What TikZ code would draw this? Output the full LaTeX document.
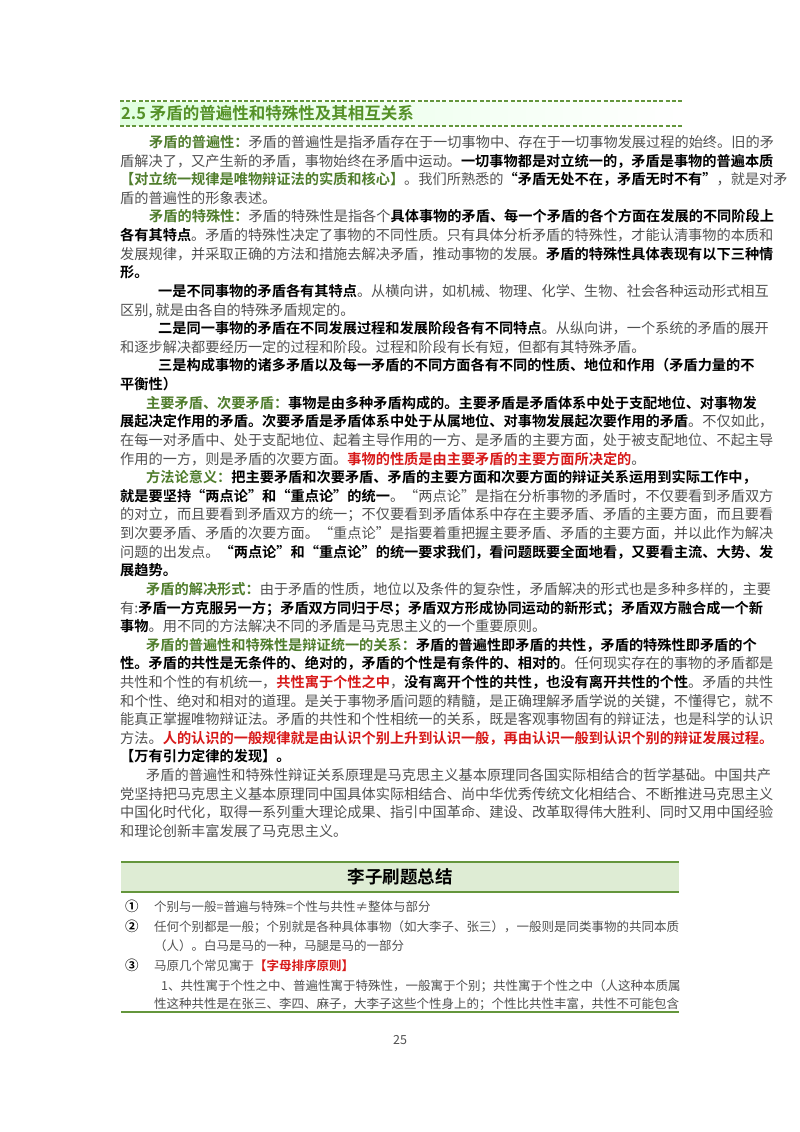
\documentclass[tikz,border=0pt]{standalone}
\usepackage{fontspec}
\setmainfont{Noto Sans CJK SC}[BoldFont={Noto Sans CJK SC Bold}]
\XeTeXlinebreaklocale "zh"
\XeTeXlinebreakskip=0pt plus 4pt
\definecolor{txt}{RGB}{80,80,80}
\definecolor{lab}{RGB}{80,125,45}
\definecolor{ttl}{RGB}{85,145,40}
\definecolor{rd}{RGB}{215,25,25}
\definecolor{gline}{RGB}{100,150,60}
\definecolor{hdr}{RGB}{222,236,212}
\newcommand{\gl}[1]{{\color{lab}\bfseries #1}}
\newcommand{\bd}[1]{{\color{black}\bfseries #1}}
\newcommand{\rdd}[1]{{\color{rd}\bfseries #1}}
\newcommand{\J}[3]{\node[tl] at (120,{147.5+18.62*#1}) {\makebox[560pt][s]{\hspace*{#2pt}#3}};}
\newcommand{\N}[3]{\node[tl] at (120,{147.5+18.62*#1}) {\hspace*{#2pt}#3};}
\begin{document}
\begin{tikzpicture}[x=1pt,y=-1pt,
  tl/.style={anchor=base west,inner sep=0pt,font=\fontsize{14.2}{19}\selectfont,text=txt},
  tr/.style={anchor=base west,inner sep=0pt,font=\fontsize{12.5}{17}\selectfont,text=txt},
  nm/.style={anchor=base west,inner sep=0pt,font=\fontsize{13.5}{16}\selectfont\bfseries},
  dl/.style={gline,line width=1.3pt,dash pattern=on 4pt off 2.2pt}]
\useasboundingbox (0,0) rectangle (800,1132);
\fill[left color=green!12,right color=white] (120,102) rectangle (682,125);
\draw[dl] (120,101) -- (682,101);
\draw[dl] (120,126) -- (682,126);
\node[anchor=base west,inner sep=0pt,text=ttl,font=\fontsize{16.5}{20}\selectfont\bfseries] (title) at (121,119) {2.5 矛盾的普遍性和特殊性及其相互关系};
\J{0}{29}{\gl{矛盾的普遍性：}矛盾的普遍性是指矛盾存在于一切事物中、存在于一切事物发展过程的始终。旧的矛}
\J{1}{0}{盾解决了，又产生新的矛盾，事物始终在矛盾中运动。\bd{一切事物都是对立统一的，矛盾是事物的普遍本质}}
\J{2}{0}{\gl{【对立统一规律是唯物辩证法的实质和核心】}。我们所熟悉的\bd{“矛盾无处不在，矛盾无时不有”}，就是对矛}
\N{3}{0}{盾的普遍性的形象表述。}
\J{4}{29}{\gl{矛盾的特殊性：}矛盾的特殊性是指各个\bd{具体事物的矛盾、每一个矛盾的各个方面在发展的不同阶段上}}
\J{5}{0}{\bd{各有其特点}。矛盾的特殊性决定了事物的不同性质。只有具体分析矛盾的特殊性，才能认清事物的本质和}
\J{6}{0}{发展规律，并采取正确的方法和措施去解决矛盾，推动事物的发展。\bd{矛盾的特殊性具体表现有以下三种情}}
\N{7}{0}{\bd{形。}}
\J{8}{38}{\bd{一是不同事物的矛盾各有其特点}。从横向讲，如机械、物理、化学、生物、社会各种运动形式相互}
\N{9}{0}{区别, 就是由各自的特殊矛盾规定的。}
\J{10}{38}{\bd{二是同一事物的矛盾在不同发展过程和发展阶段各有不同特点}。从纵向讲，一个系统的矛盾的展开}
\N{11}{0}{和逐步解决都要经历一定的过程和阶段。过程和阶段有长有短，但都有其特殊矛盾。}
\J{12}{38}{\bd{三是构成事物的诸多矛盾以及每一矛盾的不同方面各有不同的性质、地位和作用（矛盾力量的不}}
\N{13}{0}{\bd{平衡性）}}
\J{14}{26}{\gl{主要矛盾、次要矛盾：}\bd{事物是由多种矛盾构成的。主要矛盾是矛盾体系中处于支配地位、对事物发}}
\J{15}{0}{\bd{展起决定作用的矛盾。次要矛盾是矛盾体系中处于从属地位、对事物发展起次要作用的矛盾}。不仅如此，}
\J{16}{0}{在每一对矛盾中、处于支配地位、起着主导作用的一方、是矛盾的主要方面，处于被支配地位、不起主导}
\N{17}{0}{作用的一方，则是矛盾的次要方面。\rdd{事物的性质是由主要矛盾的主要方面所决定的}。}
\J{18}{26}{\gl{方法论意义：}\bd{把主要矛盾和次要矛盾、矛盾的主要方面和次要方面的辩证关系运用到实际工作中，}}
\J{19}{0}{\bd{就是要坚持“两点论”和“重点论”的统一}。“两点论”是指在分析事物的矛盾时，不仅要看到矛盾双方}
\J{20}{0}{的对立，而且要看到矛盾双方的统一；不仅要看到矛盾体系中存在主要矛盾、矛盾的主要方面，而且要看}
\J{21}{0}{到次要矛盾、矛盾的次要方面。“重点论”是指要着重把握主要矛盾、矛盾的主要方面，并以此作为解决}
\J{22}{0}{问题的出发点。\bd{“两点论”和“重点论”的统一要求我们，看问题既要全面地看，又要看主流、大势、发}}
\N{23}{0}{\bd{展趋势。}}
\J{24}{26}{\gl{矛盾的解决形式：}由于矛盾的性质，地位以及条件的复杂性，矛盾解决的形式也是多种多样的，主要}
\J{25}{0}{有:\bd{矛盾一方克服另一方；矛盾双方同归于尽；矛盾双方形成协同运动的新形式；矛盾双方融合成一个新}}
\N{26}{0}{\bd{事物}。用不同的方法解决不同的矛盾是马克思主义的一个重要原则。}
\J{27}{26}{\gl{矛盾的普遍性和特殊性是辩证统一的关系：}\bd{矛盾的普遍性即矛盾的共性，矛盾的特殊性即矛盾的个}}
\J{28}{0}{\bd{性。矛盾的共性是无条件的、绝对的，矛盾的个性是有条件的、相对的}。任何现实存在的事物的矛盾都是}
\J{29}{0}{共性和个性的有机统一，\rdd{共性寓于个性之中}，\bd{没有离开个性的共性，也没有离开共性的个性}。矛盾的共性}
\J{30}{0}{和个性、绝对和相对的道理。是关于事物矛盾问题的精髓，是正确理解矛盾学说的关键，不懂得它，就不}
\J{31}{0}{能真正掌握唯物辩证法。矛盾的共性和个性相统一的关系，既是客观事物固有的辩证法，也是科学的认识}
\J{32}{0}{方法。\rdd{人的认识的一般规律就是由认识个别上升到认识一般，再由认识一般到认识个别的辩证发展过程。}}
\N{33}{0}{\bd{【万有引力定律的发现】。}}
\J{34}{26}{矛盾的普遍性和特殊性辩证关系原理是马克思主义基本原理同各国实际相结合的哲学基础。中国共产}
\J{35}{0}{党坚持把马克思主义基本原理同中国具体实际相结合、尚中华优秀传统文化相结合、不断推进马克思主义}
\J{36}{0}{中国化时代化，取得一系列重大理论成果、指引中国革命、建设、改革取得伟大胜利、同时又用中国经验}
\N{37}{0}{和理论创新丰富发展了马克思主义。}
% summary table
\fill[hdr] (121,862) rectangle (679,892);
\draw[gline,line width=2pt] (121,862) -- (679,862);
\draw[gline,line width=2pt] (121,892) -- (679,892);
\draw[gline,line width=2pt] (121,1012) -- (679,1012);
\node[inner sep=0pt,font=\fontsize{17.5}{20}\selectfont\bfseries] (hd) at (400,877) {李子刷题总结};
\node[nm] (n1) at (125,911) {①};
\node[nm] (n2) at (125,931) {②};
\node[nm] (n3) at (125,970) {③};
\node[tr] (r1) at (154,911) {个别与一般=普遍与特殊=个性与共性≠整体与部分};
\node[tr] (r2) at (154,931) {\makebox[524pt][s]{任何个别都是一般；个别就是各种具体事物（如大李子、张三），一般则是同类事物的共同本质}};
\node[tr] (r2b) at (154,950) {（人）。白马是马的一种，马腿是马的一部分};
\node[tr] (r3) at (154,970) {马原几个常见寓于\rdd{【字母排序原则】}};
\node[tr] (r4) at (154,990) {\makebox[524pt][s]{\hspace*{7pt}1、共性寓于个性之中、普遍性寓于特殊性，一般寓于个别；共性寓于个性之中（人这种本质属}};
\node[tr] (r5) at (154,1008) {\makebox[524pt][s]{性这种共性是在张三、李四、麻子，大李子这些个性身上的；个性比共性丰富，共性不可能包含}};
\node[inner sep=0pt,font=\fontsize{12.5}{14}\selectfont,text=txt] (pg) at (400,1040) {25};
\end{tikzpicture}
\end{document}
